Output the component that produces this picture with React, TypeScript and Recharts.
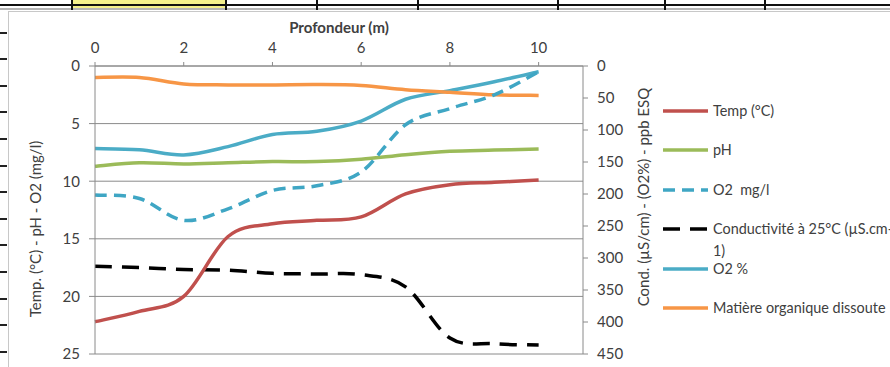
import { LineChart, Line, XAxis, YAxis, CartesianGrid, Legend } from "recharts";

// Depth profile (m) and the values measured at each depth
const depths = [0, 1, 2, 3, 4, 5, 6, 7, 8, 9, 10];
const temp = [22.2, 21.3, 20.0, 14.8, 13.7, 13.4, 13.1, 11.1, 10.3, 10.1, 9.9];
const ph = [8.7, 8.4, 8.5, 8.4, 8.3, 8.3, 8.1, 7.7, 7.4, 7.3, 7.2];
const o2mg = [11.2, 11.5, 13.4, 12.4, 10.8, 10.4, 9.2, 5.1, 3.7, 2.5, 0.5];
const conductivite = [313, 315, 318, 319, 324, 325, 326, 345, 425, 434, 436];
const o2pct = [129, 131, 139, 126, 107, 102, 86, 52, 38.5, 24.5, 9];
const matiere = [18, 18, 28, 29.5, 29.5, 29, 30.5, 37, 41, 45, 46];

const depthTicks = [0, 2, 4, 6, 8, 10];
const leftTicks = [0, 5, 10, 15, 20, 25];
const rightTicks = [0, 50, 100, 150, 200, 250, 300, 350, 400, 450];

const data = depths.map((d, i) => ({
  depth: d,
  temp: temp[i],
  ph: ph[i],
  o2mg: o2mg[i],
  conductivite: conductivite[i],
  o2pct: o2pct[i],
  matiere: matiere[i],
}));

// legend order
const series = [
  { key: "temp", name: "Temp (°C)", color: "#c0504d", dash: undefined, axis: "left" },
  { key: "ph", name: "pH", color: "#9bbb59", dash: undefined, axis: "left" },
  { key: "o2mg", name: "O2  mg/l", color: "#3fa6c4", dash: "12 7", axis: "left" },
  { key: "conductivite", name: "Conductivité à 25°C (µS.cm-\n1)", color: "#000000", dash: "17 10", axis: "right" },
  { key: "o2pct", name: "O2 %", color: "#4bacc6", dash: undefined, axis: "right" },
  { key: "matiere", name: "Matière organique dissoute", color: "#f79646", dash: undefined, axis: "right" },
];

// secondary-axis series go underneath
const drawOrder = ["conductivite", "o2pct", "matiere", "temp", "ph", "o2mg"];

// spreadsheet-style smoothing: Catmull-Rom through every point, drawn as cubic Béziers
function smoothCurve(context: any) {
  let pts: [number, number][] = [];
  return {
    areaStart() {},
    areaEnd() {},
    lineStart() {
      pts = [];
    },
    lineEnd() {
      const n = pts.length;
      if (!n) return;
      context.moveTo(pts[0][0], pts[0][1]);
      for (let i = 0; i < n - 1; i++) {
        const p0 = pts[i - 1] ?? pts[i];
        const p1 = pts[i];
        const p2 = pts[i + 1];
        const p3 = pts[i + 2] ?? p2;
        context.bezierCurveTo(
          p1[0] + (p2[0] - p0[0]) / 6,
          p1[1] + (p2[1] - p0[1]) / 6,
          p2[0] - (p3[0] - p1[0]) / 6,
          p2[1] - (p3[1] - p1[1]) / 6,
          p2[0],
          p2[1]
        );
      }
    },
    point(x: number, y: number) {
      pts.push([+x, +y]);
    },
  };
}

const FONT = "Lato, 'Open Sans', sans-serif";
const TEXT = "#404040";
const AXIS = "#8a8a8a";
const tickStyle = { fill: TEXT, fontSize: 15, fontFamily: FONT };

const cellLines = [72, 226, 317, 418, 558, 665, 765];
const rowMarks = Array.from({ length: 13 }, (_, i) => 32.5 + i * 26.6);

function LegendBox() {
  return (
    <div style={{ fontFamily: FONT, fontSize: 14.4, color: TEXT }}>
      {series.map((s) => (
        <div
          key={s.key}
          style={{ display: "flex", alignItems: "flex-start", height: 39.4, paddingTop: 8.7, boxSizing: "border-box" }}
        >
          <svg width={45} height={22} style={{ flex: "none" }}>
            <line x1={0} x2={45} y1={11} y2={11} stroke={s.color} strokeWidth={3.5} strokeDasharray={s.dash} />
          </svg>
          <span style={{ marginLeft: 5, lineHeight: "22px", whiteSpace: "pre-wrap" }}>{s.name}</span>
        </div>
      ))}
    </div>
  );
}

export default function App() {
  return (
    <div
      style={{
        position: "absolute",
        left: 0,
        top: 0,
        width: 890,
        height: 367,
        overflow: "hidden",
        background: "#fff",
      }}
    >
      {/* spreadsheet row above the chart */}
      <div style={{ position: "absolute", left: 72, top: 0, width: 154, height: 9, background: "#f4f08c" }} />
      <div style={{ position: "absolute", left: 0, top: 4, width: 890, height: 2, background: "#111" }} />
      <div style={{ position: "absolute", left: 0, top: 8, width: 890, height: 2, background: "#b5b5b5" }} />
      {cellLines.map((x) => (
        <div key={x} style={{ position: "absolute", left: x - 1, top: 0, width: 2, height: 10, background: "#111" }} />
      ))}
      {rowMarks.map((y) => (
        <div key={y} style={{ position: "absolute", left: 0, top: y - 1, width: 7, height: 2, background: "#222" }} />
      ))}
      <div style={{ position: "absolute", left: 8, top: 11, width: 882, height: 1, background: "#c8c8c8" }} />
      <div style={{ position: "absolute", left: 8, top: 11, width: 1, height: 356, background: "#c8c8c8" }} />

      <div style={{ position: "absolute", left: 0, top: 0 }}>
        <LineChart width={890} height={367} data={data} margin={{ top: 18, right: 247, bottom: 13, left: 0 }}>
          <CartesianGrid yAxisId="left" vertical={false} stroke={AXIS} strokeWidth={1} />
          <XAxis
            dataKey="depth"
            type="number"
            orientation="top"
            domain={[0, 11]}
            ticks={depthTicks}
            height={48}
            tickSize={4}
            tickMargin={9}
            stroke={AXIS}
            tick={tickStyle}
            label={{
              value: "Profondeur (m)",
              position: "insideTop",
              offset: 4,
              fill: TEXT,
              fontSize: 15,
              fontWeight: "bold",
              fontFamily: FONT,
            }}
          />
          <YAxis
            yAxisId="left"
            reversed
            domain={[0, 25]}
            ticks={leftTicks}
            width={95}
            tickSize={6}
            tickMargin={9}
            stroke={AXIS}
            tick={tickStyle}
          />
          <YAxis
            yAxisId="right"
            orientation="right"
            reversed
            domain={[0, 450]}
            ticks={rightTicks}
            width={60}
            tickSize={5}
            tickMargin={9}
            stroke={AXIS}
            tick={tickStyle}
          />
          {drawOrder.map((k) => {
            const s = series.find((x) => x.key === k)!;
            return (
              <Line
                key={s.key}
                yAxisId={s.axis}
                dataKey={s.key}
                name={s.name}
                type={smoothCurve as any}
                stroke={s.color}
                strokeWidth={3.5}
                strokeDasharray={s.dash}
                dot={false}
                activeDot={false}
                isAnimationActive={false}
              />
            );
          })}
          <Legend
            layout="vertical"
            align="center"
            verticalAlign="middle"
            wrapperStyle={{ left: 663, top: 91.3, width: 260 }}
            content={() => <LegendBox />}
          />
        </LineChart>
      </div>

      {/* rotated axis titles */}
      <div
        style={{
          position: "absolute",
          left: 35,
          top: 229,
          transform: "translate(-50%, -50%) rotate(-90deg)",
          whiteSpace: "nowrap",
          fontFamily: FONT,
          fontSize: 15,
          color: TEXT,
        }}
      >
        Temp. (°C) - pH - O2 (mg/l)
      </div>
      <div
        style={{
          position: "absolute",
          left: 643,
          top: 197,
          transform: "translate(-50%, -50%) rotate(-90deg)",
          whiteSpace: "nowrap",
          fontFamily: FONT,
          fontSize: 15,
          color: TEXT,
        }}
      >
        Cond. (µS/cm) - (O2%) - ppb ESQ
      </div>
    </div>
  );
}
